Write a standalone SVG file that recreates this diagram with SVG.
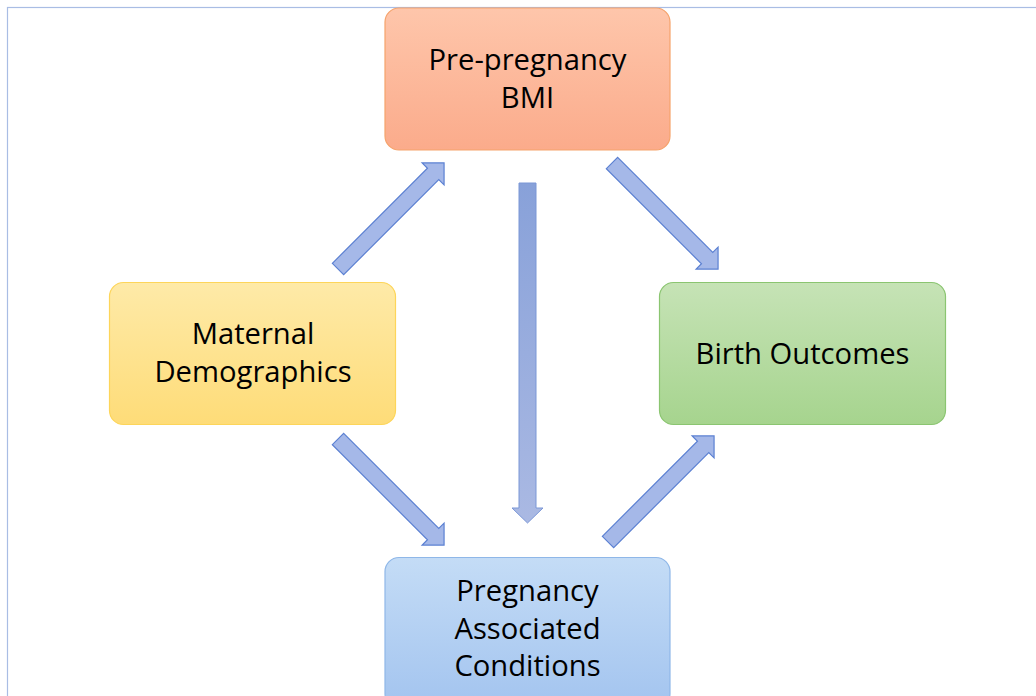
<svg xmlns="http://www.w3.org/2000/svg" width="1036" height="696" viewBox="0 0 1036 696">
<defs>
<linearGradient id="gO" x1="0" y1="0" x2="0" y2="1"><stop offset="0" stop-color="#fec6ab"/><stop offset="1" stop-color="#fbab8b"/></linearGradient>
<linearGradient id="gY" x1="0" y1="0" x2="0" y2="1"><stop offset="0" stop-color="#feeaa8"/><stop offset="1" stop-color="#fedc78"/></linearGradient>
<linearGradient id="gG" x1="0" y1="0" x2="0" y2="1"><stop offset="0" stop-color="#c6e3b6"/><stop offset="1" stop-color="#a6d48e"/></linearGradient>
<linearGradient id="gB" x1="0" y1="0" x2="0" y2="1"><stop offset="0" stop-color="#c4dcf6"/><stop offset="1" stop-color="#a3c4ef"/></linearGradient>
<linearGradient id="gV" x1="0" y1="0" x2="0" y2="1"><stop offset="0" stop-color="#88a1d9"/><stop offset="1" stop-color="#aab9e3"/></linearGradient>
<path id="diag" d="M0,-8 H134.5 V-15.5 L150,0 L134.5,15.5 V8 H0 Z"/>
</defs>
<style>
.txt{font-family:"Open Sans","Noto Sans",sans-serif;font-size:29.2px;fill:#000;text-anchor:middle}
.arr{fill:#a5b8e8;stroke:#5b80d2;stroke-width:1.2}
</style>
<rect x="7.5" y="7.5" width="1040" height="700" fill="#fff" stroke="#a9bde4" stroke-width="1.2"/>
<g id="connectors">
<use href="#diag" class="arr" transform="translate(338,269) rotate(-45)"/>
<use href="#diag" class="arr" transform="translate(612,163) rotate(45)"/>
<use href="#diag" class="arr" transform="translate(338,439) rotate(45)"/>
<use href="#diag" class="arr" transform="translate(608,542) rotate(-45)"/>
<path d="M519,183 H536 V508 H543 L527.5,523 L512,508 H519 Z" fill="url(#gV)" stroke="#7b97d6" stroke-width="1"/>
</g>
<g id="bmi">
<rect x="385" y="8" width="285" height="142" rx="14" fill="url(#gO)" stroke="#f5a36c" stroke-width="1.2"/>
<text class="txt" x="527.5" y="70">Pre-pregnancy</text>
<text class="txt" x="527.5" y="108">BMI</text>
</g>
<g id="maternal">
<rect x="109.5" y="282.5" width="286" height="142" rx="14" fill="url(#gY)" stroke="#fdd55a" stroke-width="1.2"/>
<text class="txt" x="253" y="344">Maternal</text>
<text class="txt" x="253" y="382">Demographics</text>
</g>
<g id="birth">
<rect x="659.5" y="282.5" width="286" height="142" rx="14" fill="url(#gG)" stroke="#8bc571" stroke-width="1.2"/>
<text class="txt" x="802.5" y="364">Birth Outcomes</text>
</g>
<g id="pac">
<rect x="385" y="557.5" width="285" height="150" rx="14" fill="url(#gB)" stroke="#8fb7e8" stroke-width="1.2"/>
<text class="txt" x="527.5" y="601">Pregnancy</text>
<text class="txt" x="527.5" y="639">Associated</text>
<text class="txt" x="527.5" y="676">Conditions</text>
</g>
</svg>
